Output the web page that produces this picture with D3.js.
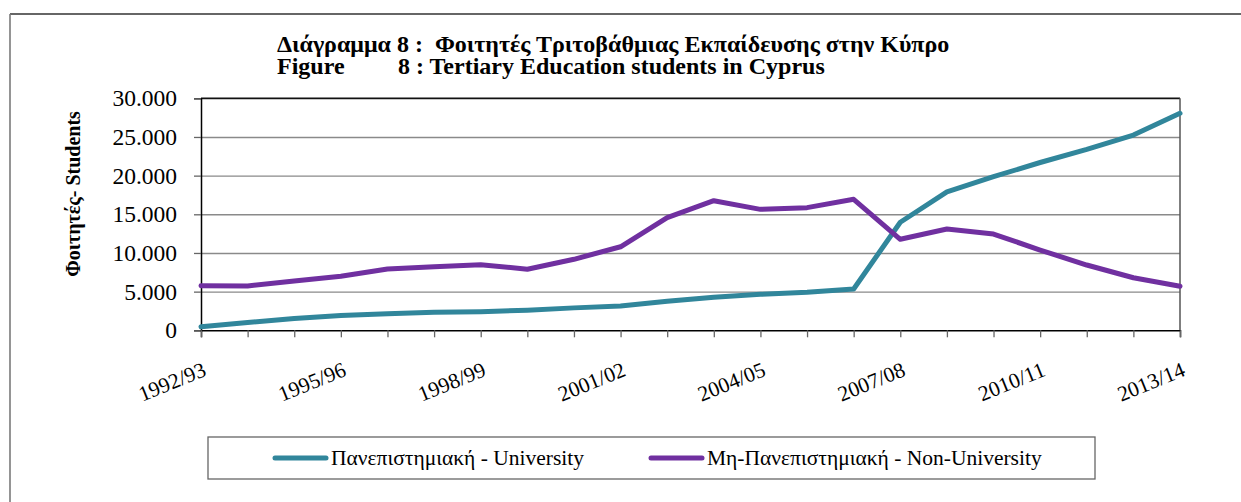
<!doctype html>
<html>
<head>
  <meta charset="utf-8">
  <title>Tertiary Education students in Cyprus</title>
  <script src="https://d3js.org/d3.v7.min.js"></script>
  <style>
  body {
    margin: 0;
    background: #fff;
  }

  svg {
    font-family: "Liberation Serif", "Times New Roman", serif;
    display: block;
  }

  .title {
    font-weight: bold;
    font-size: 24px;
    white-space: pre;
  }

  .axis text {
    font-family: "Liberation Serif", "Times New Roman", serif;
  }

  .y.axis text {
    font-size: 23.5px;
  }

  .x.axis text {
    font-size: 21.5px;
  }

  .axis path {
    stroke: #000;
    stroke-width: 1.5;
  }

  .axis line {
    stroke: #666;
    stroke-width: 1.3;
  }

  .grid line {
    stroke: #8a8a8a;
    stroke-width: 1.4;
  }

  .grid path {
    display: none;
  }

  .series {
    fill: none;
    stroke-width: 5;
    stroke-linejoin: round;
    stroke-linecap: round;
  }

  .legend text {
    font-size: 21.5px;
  }
</style>
</head>
<body>
  <script>
    // academic years on the x axis
    var years = ["1992/93", "1993/94", "1994/95", "1995/96", "1996/97", "1997/98",
                 "1998/99", "1999/00", "2000/01", "2001/02", "2002/03", "2003/04",
                 "2004/05", "2005/06", "2006/07", "2007/08", "2008/09", "2009/10",
                 "2010/11", "2011/12", "2012/13", "2013/14"];

    // students
    var university = [470, 1000, 1530, 1900, 2150, 2320, 2400, 2600, 2900, 3150,
                      3750, 4270, 4650, 4920, 5340, 13970, 17900, 19860, 21700,
                      23400, 25250, 28060];
    var nonUniversity = [5770, 5730, 6370, 7000, 7930, 8230, 8490, 7890, 9180, 10800,
                         14560, 16760, 15640, 15860, 16940, 11770, 13100, 12450,
                         10380, 8440, 6800, 5690];

    var seriesNames = ["Πανεπιστημιακή - University", "Μη-Πανεπιστημιακή - Non-University"];
    var seriesColours = ["#31869b", "#7030a0"];

    var yTicks = [0, 5000, 10000, 15000, 20000, 25000, 30000];
    // only every third year gets a label
    var xLabels = ["1992/93", "1995/96", "1998/99", "2001/02", "2004/05", "2007/08",
                   "2010/11", "2013/14"];

    var titleLine1 = "Διάγραμμα 8 :  Φοιτητές Τριτοβάθμιας Εκπαίδευσης στην Κύπρο",
        titleFig = "Figure",
        titleLine2 = "8 : Tertiary Education students in Cyprus",
        yTitle = "Φοιτητές- Students";

    var width = 1241,
        height = 502,
        plotLeft = 201,
        plotRight = 1180,
        plotTop = 98.3,
        plotBottom = 330.3;

    var svg = d3.select("body").append("svg")
        .attr("width", width)
        .attr("height", height);

    // outer frame of the figure, cut off by the page on the right and bottom
    svg.append("line")
        .attr("x1", 10).attr("y1", 14).attr("x2", width).attr("y2", 14)
        .style("stroke", "#333").style("stroke-width", 1.6);
    svg.append("line")
        .attr("x1", 10).attr("y1", 14).attr("x2", 10).attr("y2", height)
        .style("stroke", "#7a7a7a").style("stroke-width", 1.6);

    svg.append("text").attr("class", "title")
        .attr("x", 277).attr("y", 52)
        .text(titleLine1);
    svg.append("text").attr("class", "title")
        .attr("x", 277).attr("y", 74)
        .text(titleFig);
    svg.append("text").attr("class", "title")
        .attr("x", 398).attr("y", 74)
        .text(titleLine2);

    var x = d3.scalePoint()
        .domain(years)
        .range([plotLeft, plotRight]);

    var y = d3.scaleLinear()
        .domain([0, 30000])
        .range([plotBottom, plotTop]);

    var fmt = d3.formatLocale({decimal: ",", thousands: ".", grouping: [3]}).format(",");

    // horizontal gridlines
    svg.append("g")
        .attr("class", "grid")
        .attr("transform", "translate(" + plotLeft + ",0)")
        .call(d3.axisLeft(y).tickValues(yTicks.slice(1)).tickSize(-(plotRight - plotLeft)).tickFormat(""));

    // frame on top and right of the plot area
    svg.append("line")
        .attr("x1", plotLeft).attr("y1", plotTop).attr("x2", plotRight).attr("y2", plotTop)
        .style("stroke", "#111").style("stroke-width", 1.5);
    svg.append("line")
        .attr("x1", plotRight).attr("y1", plotTop).attr("x2", plotRight).attr("y2", plotBottom)
        .style("stroke", "#555").style("stroke-width", 1.5);

    svg.append("g")
        .attr("class", "y axis")
        .attr("transform", "translate(" + plotLeft + ",0)")
        .call(d3.axisLeft(y).tickValues(yTicks).tickSize(7).tickPadding(17).tickFormat(fmt))
        .attr("font-family", null)
        .attr("font-size", null)
        .call(function(g){ g.selectAll("text").attr("fill", "#000"); });

    var xAxis = svg.append("g")
        .attr("class", "x axis")
        .attr("transform", "translate(0," + plotBottom + ")")
        .call(d3.axisBottom(x).tickSize(7).tickFormat(function(d){
          return xLabels.indexOf(d) >= 0 ? d : "";
        }))
        .attr("font-family", null)
        .attr("font-size", null);

    xAxis.selectAll("text")
        .attr("fill", "#000")
        .attr("text-anchor", "end")
        .attr("dy", null)
        .attr("y", null)
        .attr("transform", "translate(6,45) rotate(-22)");

    svg.append("text")
        .attr("transform", "translate(80,194) rotate(-90)")
        .attr("text-anchor", "middle")
        .style("font-weight", "bold")
        .style("font-size", "20px")
        .text(yTitle);

    var line = d3.line()
        .x(function(d, i){ return x(years[i]); })
        .y(function(d){ return y(d); });

    svg.selectAll(".series")
        .data([university, nonUniversity])
      .enter().append("path")
        .attr("class", "series")
        .attr("d", line)
        .style("stroke", function(d, i){ return seriesColours[i]; });

    // legend
    var legend = svg.append("g").attr("class", "legend");

    legend.append("rect")
        .attr("x", 208).attr("y", 437)
        .attr("width", 887).attr("height", 42)
        .style("fill", "none")
        .style("stroke", "#666")
        .style("stroke-width", 1.3);

    var legendX = [273, 649];

    var item = legend.selectAll(".item")
        .data(seriesNames)
      .enter().append("g")
        .attr("class", "item")
        .attr("transform", function(d, i){ return "translate(" + legendX[i] + ",458)"; });

    item.append("line")
        .attr("x1", 2).attr("x2", 53)
        .style("stroke", function(d, i){ return seriesColours[i]; })
        .style("stroke-width", 5)
        .style("stroke-linecap", "round");

    item.append("text")
        .attr("x", 58)
        .attr("y", 7)
        .text(function(d){ return d; });
  </script>
</body>
</html>
